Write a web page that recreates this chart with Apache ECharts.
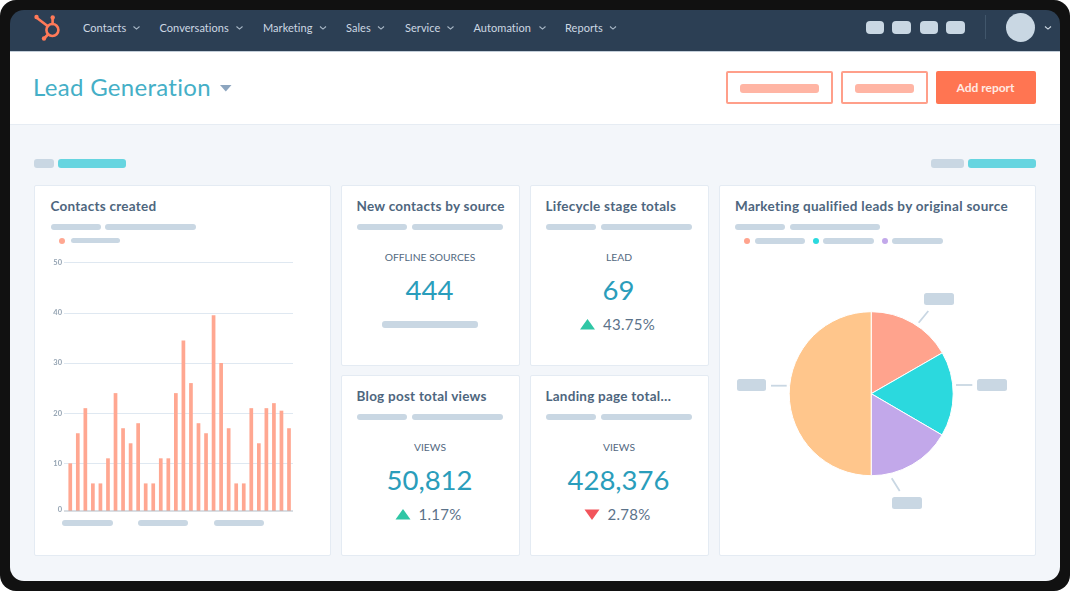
<!DOCTYPE html>
<html>
<head>
<meta charset="utf-8">
<title>Lead Generation</title>
<script src="https://cdn.jsdelivr.net/npm/echarts@6/dist/echarts.min.js"></script>
<style>
html, body { margin: 0; padding: 0; background: #fff; width: 1070px; height: 591px; overflow: hidden; }
#frame { position: absolute; left: 0; top: 0; width: 1070px; height: 591px; background: #111; border-radius: 16px; }
#screen { position: absolute; left: 0; top: 0; width: 1070px; height: 591px; background: #f3f6fa;
  clip-path: inset(10px round 14px); filter: blur(0.6px); font-family: Lato, sans-serif; color: #4f667d; }
#screen div, #screen svg { position: absolute; }
.txt { white-space: nowrap; line-height: 1; }
.card { background: #fff; border: 1.5px solid #e4ebf3; box-sizing: border-box; border-radius: 2px; }
</style>
</head>
<body>
<div id="frame"></div>
<div id="screen">
  <div id="barChart" style="left:34px;top:250px;width:296px;height:280px"></div>
  <div id="pieChart" style="left:719px;top:280px;width:316px;height:220px"></div>
</div>
<script>
// data
var navItems = ['Contacts', 'Conversations', 'Marketing', 'Sales', 'Service', 'Automation', 'Reports'];
var navLeft = [83, 159.5, 263, 346, 405, 473.5, 565];
var contacts = [10,16,21,6,6,11,24,17,14,18,6,6,11,11,24,34.5,26,18,16,39.5,30,17,6,6,21,14,21,22,20.5,17];
var yTicks = [0,10,20,30,40,50];
var pieValues = [16.7,16.7,16.6,50];
var kpiTitles = ['New contacts by source','Lifecycle stage totals','Blog post total views','Landing page total…'];
var kpiLabels = ['OFFLINE SOURCES','LEAD','VIEWS','VIEWS'];
var kpiValues = ['444','69','50,812','428,376'];
var kpiChanges = ['', '43.75%', '1.17%', '2.78%'];
var kpiDirections = [0, 1, 1, -1];

var screen = document.getElementById('screen');
var CORAL = '#ffa791', GREY = '#c9d7e3', TITLE = '#4e667e';

function box(x, y, w, h, color, r) {
  var d = document.createElement('div');
  d.style.cssText = 'left:'+x+'px;top:'+y+'px;width:'+w+'px;height:'+h+'px;background:'+color+';border-radius:'+(r === undefined ? 3 : r)+'px';
  screen.insertBefore(d, document.getElementById('barChart'));
  return d;
}
function text(s, x, cy, size, color, weight, align, spacing) {
  var d = document.createElement('div');
  d.className = 'txt';
  d.textContent = s;
  var pos = align === 'center' ? 'transform:translateX(-50%);' : '';
  d.style.cssText = 'left:'+x+'px;top:'+(cy - size / 2)+'px;font-size:'+size+'px;color:'+color+';font-weight:'+(weight || 400)+';letter-spacing:'+(spacing || 0)+'px;'+pos;
  screen.insertBefore(d, document.getElementById('barChart'));
  return d;
}
function card(x, y, w, h) {
  var d = box(x, y, w, h, '#fff', 2);
  d.className = 'card';
}
function svg(inner) {
  var d = document.createElement('div');
  d.style.cssText = 'left:0;top:0;width:1070px;height:591px';
  d.innerHTML = '<svg width="1070" height="591" style="left:0;top:0">' + inner + '</svg>';
  screen.appendChild(d);
}
function chevron(x, y, color) {
  return '<path d="M'+x+' '+y+'l3 2.6l3-2.6" fill="none" stroke="'+color+'" stroke-width="1.1"/>';
}

// top nav
box(10, 10, 1050, 40.5, '#2c3f54', 0);
box(10, 50.5, 1050, 1, '#c3ced9', 0);
var marks = '';
var navChevron = [133.5, 236.5, 320, 378, 447.5, 539.5, 610];
navItems.forEach(function (name, i) {
  text(name, navLeft[i], 27, 11, '#cdd8e3', 400, 'left', 0.05);
  marks += chevron(navChevron[i], 26.5, '#a9b8c7');
});
marks += chevron(1045, 26.5, '#cdd8e3');
// sprocket logo
marks += '<g fill="none" stroke="#ff7a59" stroke-width="2.6" stroke-linecap="round">' +
  '<circle cx="52.4" cy="30" r="6"/><path d="M37 18L47.5 26"/><path d="M52.6 18V24"/><path d="M44.5 38L48 34.5"/></g>' +
  '<g fill="#ff7a59"><circle cx="36.5" cy="17" r="2.2"/><circle cx="52.7" cy="17.5" r="2.2"/><circle cx="44" cy="38.5" r="2.2"/></g>';
[865.5, 892, 919.5, 946].forEach(function (x) { box(x, 21, 18.5, 13, GREY, 4); });
box(984.5, 15, 1, 24, '#41566b', 0);
box(1006, 13, 29, 29, GREY, 15);

// page header
box(10, 51.5, 1050, 72.5, '#fff', 0);
box(10, 124, 1050, 1.2, '#e6ecf3', 0);
text('Lead Generation', 33, 87, 24, '#45afc7', 400, 'left', 0.3);
marks += '<path d="M220 85h11.5l-5.7 6.5z" fill="#8ca5bf"/>';
var b1 = box(725.5, 71, 107, 33, '#fff', 2); b1.style.border = '2px solid #ff9f8a'; b1.style.boxSizing = 'border-box';
box(740, 83.5, 78.5, 9, '#ffb5a4', 3);
var b2 = box(841, 71, 86.5, 33, '#fff', 2); b2.style.border = '2px solid #ff9f8a'; b2.style.boxSizing = 'border-box';
box(854.5, 83.5, 59.5, 9, '#ffb5a4', 3);
box(936, 71, 100, 33, '#ff7552', 2);
text('Add report', 985.5, 88, 12, '#ffe9e2', 700, 'center');

// section pills
box(33.5, 159, 20.5, 8.5, GREY, 3);
box(58, 159, 68, 8.5, '#66d5e0', 3);
box(931, 159, 33, 8.5, GREY, 3);
box(968, 159, 68, 8.5, '#66d5e0', 3);

// cards
card(33.5, 184.5, 297, 371);
card(718.5, 184.5, 317, 371);
[[340.5, 184.5], [529.5, 184.5], [340.5, 374.5], [529.5, 374.5]].forEach(function (p, i) {
  card(p[0], p[1], 179, 181);
  var mid = p[0] + 89.5, x = p[0] + 16, y = p[1];
  text(kpiTitles[i], x, y + 22, 13.5, TITLE, 700, 'left', 0.25);
  box(x, y + 39.5, 50, 6, GREY, 3);
  box(x + 55, y + 39.5, 91, 6, GREY, 3);
  text(kpiLabels[i], mid, y + 73, 10.3, '#53697f', 400, 'center');
  text(kpiValues[i], mid - 0.5, y + 105.5, 27.5, '#2a9dbb', 400, 'center');
  if (kpiDirections[i] === 0) {
    box(mid - 48, y + 136.5, 96, 6.5, GREY, 3);
  } else {
    var t = text(kpiChanges[i], mid + 10, y + 140, 15, '#5b7289', 400, 'center', 0.25);
    var tx = mid + 10 - t.offsetWidth / 2 - 23;
    marks += kpiDirections[i] > 0
      ? '<path d="M'+tx+' '+(y+145)+'h15l-7.5-10.5z" fill="#2fc6a5"/>'
      : '<path d="M'+tx+' '+(y+135)+'h15l-7.5 10.5z" fill="#f2545b"/>';
  }
});

// contacts card header
text('Contacts created', 50.5, 206.5, 13.5, TITLE, 700, 'left', 0.25);
box(50.5, 224, 50.5, 6, GREY, 3);
box(105, 224, 91, 6, GREY, 3);
box(59, 237.5, 6, 6, CORAL, 3);
box(70.5, 237.5, 49.5, 5.5, GREY, 3);
box(62, 519.5, 51, 6, GREY, 3);
box(138, 519.5, 50, 6, GREY, 3);
box(213.5, 519.5, 50, 6, GREY, 3);

// pie card header
text('Marketing qualified leads by original source', 735, 206.5, 13.5, TITLE, 700, 'left', 0.3);
box(735, 224, 50, 6, GREY, 3);
box(790, 224, 90, 6, GREY, 3);
var pieColors = ['#ffa38d', '#2bd9de', '#c2a8ea', '#ffc68c'];
[[744, 754.5], [813, 823], [882, 892]].forEach(function (p, i) {
  box(p[0], 238, 6, 6, pieColors[i], 3);
  box(p[1], 238, 50.5, 6, GREY, 3);
});
// slice callouts
[[924, 292.5], [977, 378.5], [736.5, 378.5], [892, 496.5]].forEach(function (p) {
  box(p[0], p[1], 29.5, 12.5, GREY, 2.5);
});
marks += '<g stroke="#c9d7e3" stroke-width="1.8">' +
  '<path d="M928.3 311L918.7 322.7"/><path d="M956 385H972.3"/><path d="M771 385.7H786.7"/><path d="M891.7 478.3L899.7 491"/></g>';
svg(marks);

var barChart = echarts.init(document.getElementById('barChart'));
barChart.setOption({
  animation: false,
  // true zero sits 2.5px under the drawn baseline in the picture, see the mask below
  grid: { left: 30, right: 37, top: 12.7, bottom: 16.5 },
  xAxis: {
    // value axis so the gridlines can run a little past the first and last bar
    type: 'value',
    min: -0.83,
    max: 29.53,
    axisLine: { show: false },
    axisTick: { show: false },
    axisLabel: { show: false },
    splitLine: { show: false }
  },
  yAxis: {
    type: 'value',
    min: yTicks[0],
    max: yTicks[yTicks.length - 1],
    interval: yTicks[1] - yTicks[0],
    axisLine: { show: false },
    axisTick: { show: false },
    axisLabel: {
      color: '#95a4b3',
      fontSize: 7.5,
      fontWeight: 700,
      fontFamily: 'Lato',
      margin: 2,
      verticalAlignMinLabel: 'bottom'
    },
    splitLine: { lineStyle: { color: '#dfe8f1', width: 1 } }
  },
  series: [{
    type: 'bar',
    barWidth: 3.7,
    itemStyle: { color: CORAL },
    data: contacts.map(function (v, i) { return [i, v]; })
  }],
  graphic: [{
    type: 'rect',
    z: 10,
    shape: { x: 30, y: 261, width: 229, height: 4 },
    style: { fill: '#fff' }
  }, {
    type: 'line',
    z: 11,
    shape: { x1: 30, y1: 261, x2: 259, y2: 261 },
    style: { stroke: '#b4bdc7', lineWidth: 1.2 }
  }]
});

var pieChart = echarts.init(document.getElementById('pieChart'));
pieChart.setOption({
  animation: false,
  series: [{
    type: 'pie',
    center: [152.2, 113.7],
    radius: [0, 82],
    startAngle: 90,
    clockwise: true,
    label: { show: false },
    labelLine: { show: false },
    itemStyle: { borderColor: '#fff', borderWidth: 1 },
    data: pieValues.map(function (v, i) {
      return { value: v, itemStyle: { color: pieColors[i] } };
    })
  }]
});
</script>
</body>
</html>
